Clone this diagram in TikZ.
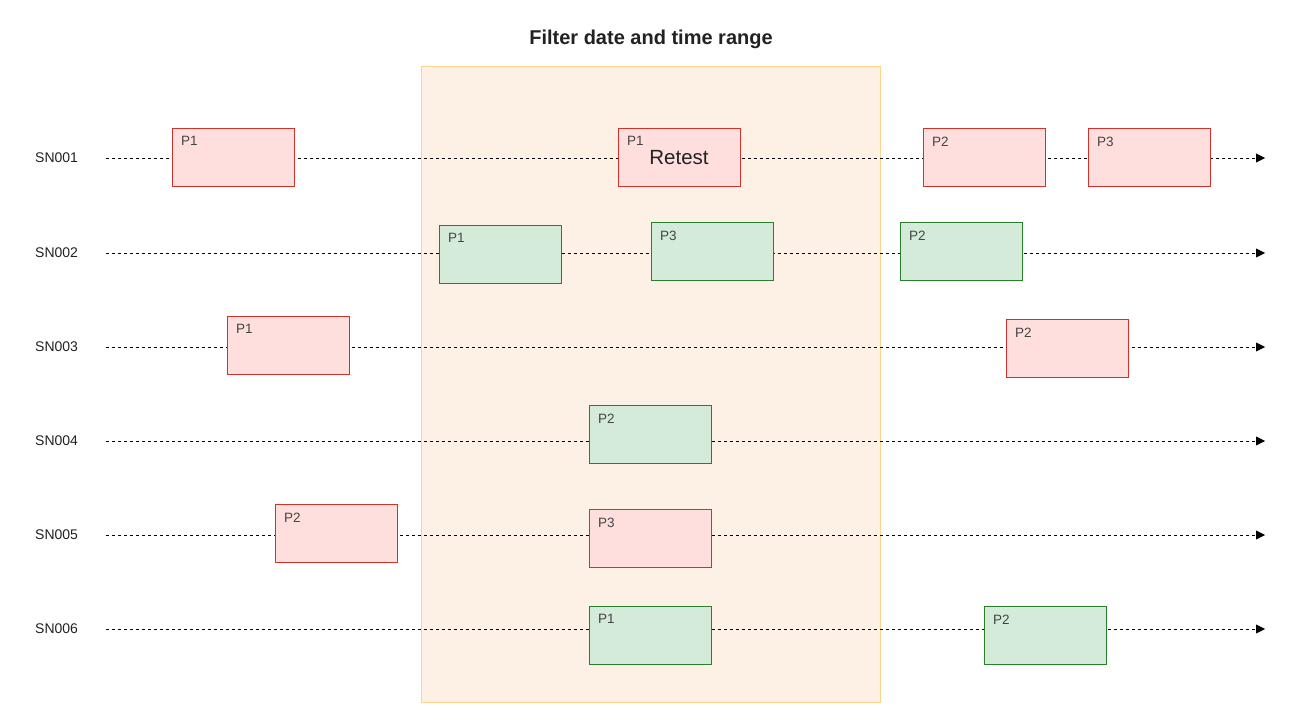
\documentclass[tikz,border=0pt]{standalone}
\usepackage{fontspec}
\setmainfont{Liberation Sans}
\usetikzlibrary{arrows.meta,calc}
\definecolor{rfill}{HTML}{FFDEDE}
\definecolor{rline}{HTML}{D0312D}
\definecolor{gfill}{HTML}{D5EBDA}
\definecolor{gline}{HTML}{2A7F2A}
\definecolor{zfill}{HTML}{FDF0E4}
\definecolor{zline}{HTML}{FFD28E}
\definecolor{txt}{HTML}{222222}
\definecolor{ptxt}{HTML}{444444}
\tikzset{
  redbox/.style={draw=rline, fill=rfill, line width=1pt, minimum width=122pt, minimum height=58pt, inner sep=0pt, anchor=north west},
  greenbox/.style={draw=gline, fill=gfill, line width=1pt, minimum width=122pt, minimum height=58pt, inner sep=0pt, anchor=north west},
  plabel/.style={font=\fontsize{13.5}{15}\selectfont, text=ptxt, anchor=north west, inner sep=0pt},
  rowlabel/.style={font=\fontsize{14}{16}\selectfont, text=txt, anchor=west, inner sep=0pt},
  timeline/.style={draw=black, line width=0.8pt, dash pattern=on 3pt off 3pt, -{Triangle[length=9pt,width=9pt]}},
}
\newcommand{\pbox}[5]{%
  \node[#1] (#2) at (#3,#4) {};
  \node[plabel] (#2l) at ($(#2.north west)+(9,8.5)$) {#5};
}
\begin{document}
\begin{tikzpicture}[x=1pt,y=-1pt]
\useasboundingbox (0,0) rectangle (1302,725);
\fill[white] (0,0) rectangle (1302,725);
\node[font=\bfseries\fontsize{20}{23}\selectfont, text=txt] (title) at (651,39) {Filter date and time range};
\node[draw=zline, fill=zfill, line width=1pt, minimum width=459pt, minimum height=636pt, anchor=north west, inner sep=0pt] (zone) at (421,66) {};
\foreach \i/\y in {1/158,2/253,3/347,4/441,5/535,6/629}{
  \node[rowlabel] (sn\i) at (35,\y) {SN00\i};
  \coordinate (st\i) at (106,\y);
  \coordinate (en\i) at (1265,\y);
  \draw[timeline] (st\i) -- (en\i);
}
% row 1
\pbox{redbox}{b11}{172}{128}{P1}
\pbox{redbox}{b12}{618}{128}{P1}
\node[font=\fontsize{20.5}{23}\selectfont, text=txt] (retest) at (679,157.5) {Retest};
\pbox{redbox}{b13}{923}{128}{P2}
\pbox{redbox}{b14}{1088}{128}{P3}
% row 2
\pbox{greenbox}{b21}{439}{225}{P1}
\pbox{greenbox}{b22}{651}{222}{P3}
\pbox{greenbox}{b23}{900}{222}{P2}
% row 3
\pbox{redbox}{b31}{227}{316}{P1}
\pbox{redbox}{b32}{1006}{319}{P2}
% row 4
\pbox{greenbox}{b41}{589}{405}{P2}
% row 5
\pbox{redbox}{b51}{275}{504}{P2}
\pbox{redbox}{b52}{589}{509}{P3}
% row 6
\pbox{greenbox}{b61}{589}{606}{P1}
\pbox{greenbox}{b62}{984}{606}{P2}
\end{tikzpicture}
\end{document}
